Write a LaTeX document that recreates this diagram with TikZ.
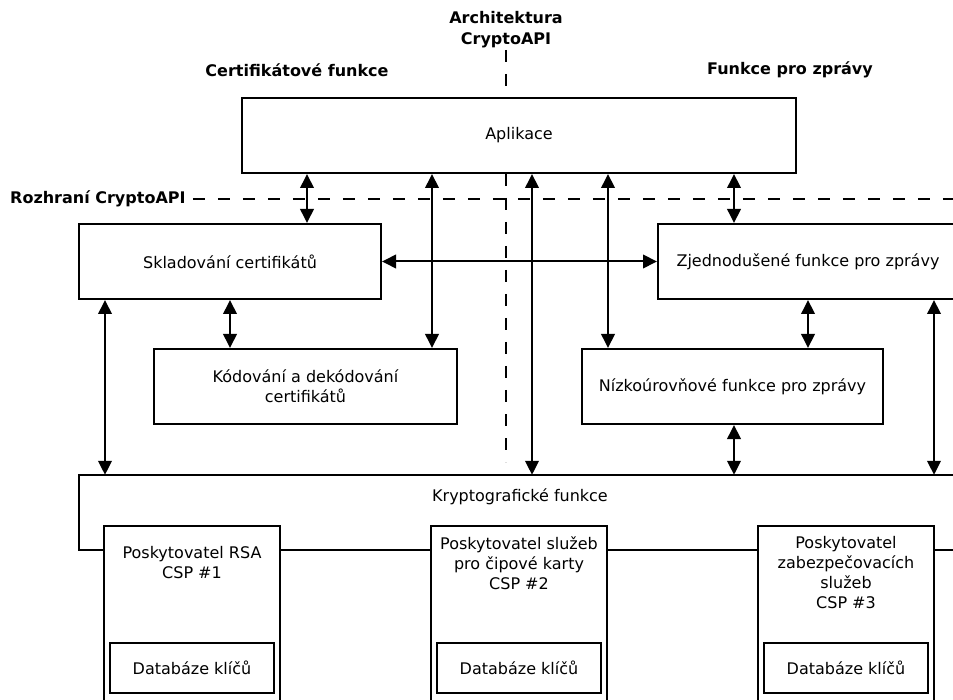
\documentclass[tikz,border=0pt]{standalone}
\usepackage{fontspec}
\setmainfont{DejaVu Sans}
\usetikzlibrary{arrows.meta}
\begin{document}
\begin{tikzpicture}[x=1pt,y=-1pt,
  font=\fontsize{16}{20}\selectfont,
  box/.style={draw, line width=2pt, inner sep=0pt, align=center, fill=white},
  lbl/.style={inner sep=0pt, align=center},
  title/.style={inner sep=0pt, align=center, font=\fontsize{16}{21}\selectfont\bfseries},
  dbl/.style={line width=2pt, {Triangle[length=14pt,width=13.5pt]}-{Triangle[length=14pt,width=13.5pt]}},
  sep/.style={line width=2pt, dash pattern=on 12pt off 13pt},
  vsep/.style={line width=2pt, dash pattern=on 12pt off 12pt}]
\path[use as bounding box] (0,0) rectangle (953,700);
\clip (0,0) rectangle (953,700);

% titles
\node[title] (arch) at (506,29.5) {Architektura\\CryptoAPI};
\node[title] (cert) at (297,70) {Certifikátové funkce};
\node[title] (msg) at (790,70) {Funkce pro zprávy};
\node[title, anchor=west] (rozh) at (10,199) {Rozhraní CryptoAPI};

% boxes
\node[box, minimum width=554, minimum height=75] (apl) at (519,135.5) {Aplikace};
\node[box, minimum width=302, minimum height=75] (skl) at (230,261.5) {Skladování certifikátů};
\node[box, minimum width=300, minimum height=75] (zjed) at (808,261.5) {Zjednodušené funkce pro zprávy};
\node[box, minimum width=303, minimum height=75] (kod) at (305.5,386.5) {Kódování a dekódování\\certifikátů};
\node[box, minimum width=301, minimum height=75] (nizko) at (732.5,386.5) {Nízkoúrovňové funkce pro zprávy};

% crypto functions
\node[inner sep=0pt, minimum width=881, minimum height=75] (krypto) at (519.5,512.5) {};
\node[lbl] (kryptotxt) at (520,497) {Kryptografické funkce};

\node[box, minimum width=176, minimum height=194] (csp1) at (192,623) {};
\node[box, minimum width=176, minimum height=194] (csp2) at (519,623) {};
\node[box, minimum width=176, minimum height=194] (csp3) at (846,623) {};
\node[lbl] (csp1t) at (192,563) {Poskytovatel RSA\\CSP \#1};
\node[lbl] (csp2t) at (519,563) {Poskytovatel služeb\\pro čipové karty\\CSP \#2};
\node[lbl] (csp3t) at (846,573) {Poskytovatel\\zabezpečovacích\\služeb\\CSP \#3};
\node[box, minimum width=164, minimum height=50] (db1) at (192,668) {Databáze klíčů};
\node[box, minimum width=164, minimum height=50] (db2) at (519,668) {Databáze klíčů};
\node[box, minimum width=164, minimum height=50] (db3) at (846,668) {Databáze klíčů};

\draw[line width=2pt] (krypto.north east) -- (krypto.north west) -- (krypto.south west) -- (csp1.west |- krypto.south);
\draw[line width=2pt] (csp1.east |- krypto.south) -- (csp2.west |- krypto.south);
\draw[line width=2pt] (csp2.east |- krypto.south) -- (csp3.west |- krypto.south);
\draw[line width=2pt] (csp3.east |- krypto.south) -- (krypto.south east);

% separators
\coordinate (vtop) at (506,50);
\coordinate (vbot) at (506,462);
\coordinate (hend) at (953,199);
\draw[vsep] (vtop) -- (apl.north -| vtop);
\draw[vsep] (apl.south -| vtop) -- (vbot);
\draw[sep] ([xshift=7pt]rozh.east) -- (hend);

% arrow columns
\coordinate (x105) at (105,0);
\coordinate (x230) at (230,0);
\coordinate (x307) at (307,0);
\coordinate (x432) at (432,0);
\coordinate (x532) at (532,0);
\coordinate (x608) at (608,0);
\coordinate (x734) at (734,0);
\coordinate (x808) at (808,0);
\coordinate (x934) at (934,0);

\draw[dbl] (apl.south -| x307) -- (skl.north -| x307);
\draw[dbl] (apl.south -| x432) -- (kod.north -| x432);
\draw[dbl] (apl.south -| x532) -- (krypto.north -| x532);
\draw[dbl] (apl.south -| x608) -- (nizko.north -| x608);
\draw[dbl] (apl.south -| x734) -- (zjed.north -| x734);
\draw[dbl] (skl.east) -- (zjed.west);
\draw[dbl] (skl.south -| x105) -- (krypto.north -| x105);
\draw[dbl] (skl.south -| x230) -- (kod.north -| x230);
\draw[dbl] (zjed.south -| x808) -- (nizko.north -| x808);
\draw[dbl] (zjed.south -| x934) -- (krypto.north -| x934);
\draw[dbl] (nizko.south -| x734) -- (krypto.north -| x734);
\end{tikzpicture}
\end{document}
